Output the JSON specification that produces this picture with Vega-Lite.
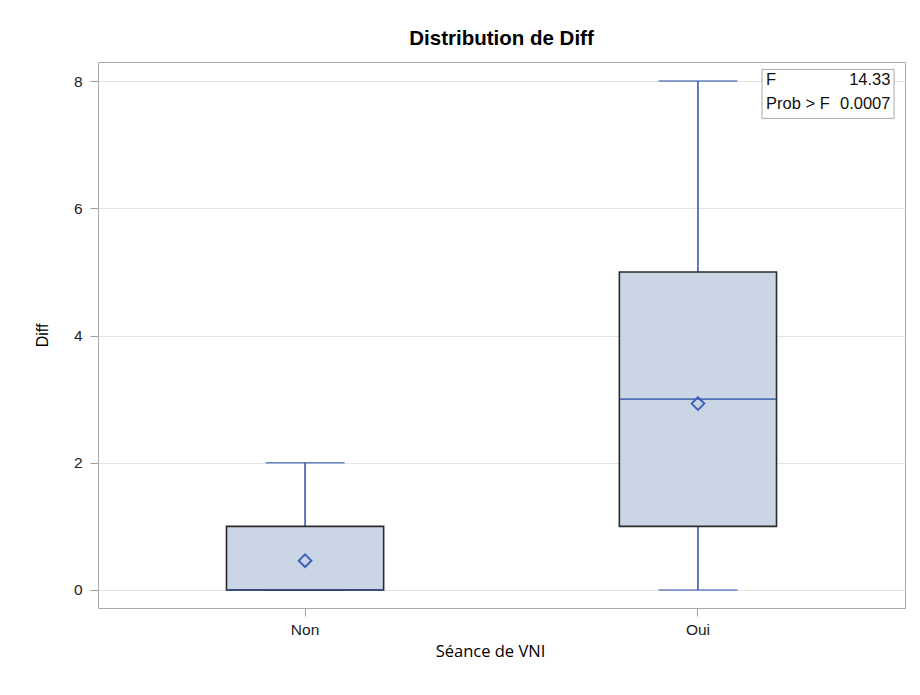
{
  "$schema": "https://vega.github.io/schema/vega-lite/v6.json",
  "width": 807,
  "height": 546,
  "autosize": {"type": "none"},
  "padding": {"left": 98, "top": 62, "right": 15, "bottom": 87},
  "background": "white",
  "title": {"text": "Distribution de Diff", "font": "Liberation Sans", "fontSize": 20.5, "fontWeight": "bold", "color": "#000000", "anchor": "middle", "offset": 13},
  "config": {
    "view": {"stroke": "#a8a8a8", "strokeWidth": 1},
    "axis": {"labelFont": "Liberation Sans", "labelFontSize": 15.5, "labelColor": "#222222", "tickColor": "#a0a0a0", "tickSize": 8, "domain": false, "titleFont": "Liberation Sans", "titleFontWeight": "normal", "titleColor": "#000000"}
  },
  "datasets": {
    "stats": [
      {"group": "Non", "min": 0, "q1": 0, "median": 0, "q3": 1, "max": 2, "mean": 0.46},
      {"group": "Oui", "min": 0, "q1": 1, "median": 3, "q3": 5, "max": 8, "mean": 2.93}
    ],
    "inset": [
      {"label": "F", "value": "14.33", "row": 8.02},
      {"label": "Prob > F", "value": "0.0007", "row": 7.638}
    ],
    "insetbox": [
      {"x0": 0.8228, "x1": 0.9864, "y0": 7.4135, "y1": 8.184}
    ]
  },
  "resolve": {"scale": {"x": "independent"}},
  "layer": [
    {
      "data": {"name": "stats"},
      "encoding": {
        "x": {"field": "group", "type": "nominal", "sort": ["Non", "Oui"],
          "scale": {"type": "band", "paddingInner": 0.6, "paddingOuter": 0.327},
          "axis": {"title": "Séance de VNI", "labelAngle": 0, "labelPadding": 6, "titleFont": "Open Sans", "titleFontSize": 16.5, "titleX": 392, "titleY": 43, "titleBaseline": "middle", "titleAlign": "center", "grid": false}
        }
      },
      "layer": [
        {
          "mark": {"type": "rule", "color": "#2b50a8", "strokeWidth": 1.5},
          "encoding": {
            "y": {"field": "q3", "type": "quantitative",
              "scale": {"domain": [-0.283, 8.3], "nice": false, "zero": false},
              "axis": {"title": "Diff", "values": [0, 2, 4, 6, 8], "format": "d", "labelPadding": 8, "grid": true, "gridColor": "#e3e3e3", "titleFontSize": 16, "titleX": -56, "titleY": 273, "titleAngle": -90, "titleAlign": "center", "titleBaseline": "middle"}
            },
            "y2": {"field": "max"}
          }
        },
        {
          "mark": {"type": "rule", "color": "#2b50a8", "strokeWidth": 1.5},
          "encoding": {"y": {"field": "min", "type": "quantitative"}, "y2": {"field": "q1"}}
        },
        {
          "mark": {"type": "tick", "color": "#2b50a8", "thickness": 1.5, "size": 79},
          "encoding": {"y": {"field": "max", "type": "quantitative"}}
        },
        {
          "mark": {"type": "tick", "color": "#2b50a8", "thickness": 1.5, "size": 79},
          "encoding": {"y": {"field": "min", "type": "quantitative"}}
        },
        {
          "mark": {"type": "bar", "fill": "#cad5e5", "stroke": "#2b2b2b", "strokeWidth": 1.6},
          "encoding": {"y": {"field": "q1", "type": "quantitative"}, "y2": {"field": "q3"}}
        },
        {
          "mark": {"type": "tick", "color": "#2346a0", "thickness": 1.6, "size": 157},
          "encoding": {"y": {"field": "median", "type": "quantitative"}}
        },
        {
          "mark": {"type": "point", "shape": "diamond", "filled": false, "stroke": "#3d62b8", "strokeWidth": 2, "size": 160, "opacity": 1},
          "encoding": {"y": {"field": "mean", "type": "quantitative"}}
        }
      ]
    },
    {
      "data": {"name": "insetbox"},
      "mark": {"type": "rect", "fill": "white", "stroke": "#a8a8a8", "strokeWidth": 1},
      "encoding": {
        "x": {"field": "x0", "type": "quantitative", "scale": {"domain": [0, 1], "nice": false, "zero": false}, "axis": null},
        "x2": {"field": "x1"},
        "y": {"field": "y0", "type": "quantitative"},
        "y2": {"field": "y1"}
      }
    },
    {
      "data": {"name": "inset"},
      "layer": [
        {
          "mark": {"type": "text", "align": "left", "baseline": "middle", "font": "Liberation Sans", "fontSize": 16.5, "color": "#111111"},
          "encoding": {
            "x": {"datum": 0.8278, "type": "quantitative", "scale": {"domain": [0, 1], "nice": false, "zero": false}, "axis": null},
            "y": {"field": "row", "type": "quantitative"},
            "text": {"field": "label"}
          }
        },
        {
          "mark": {"type": "text", "align": "right", "baseline": "middle", "font": "Liberation Sans", "fontSize": 16.5, "color": "#111111"},
          "encoding": {
            "x": {"datum": 0.982, "type": "quantitative"},
            "y": {"field": "row", "type": "quantitative"},
            "text": {"field": "value"}
          }
        }
      ]
    }
  ]
}
